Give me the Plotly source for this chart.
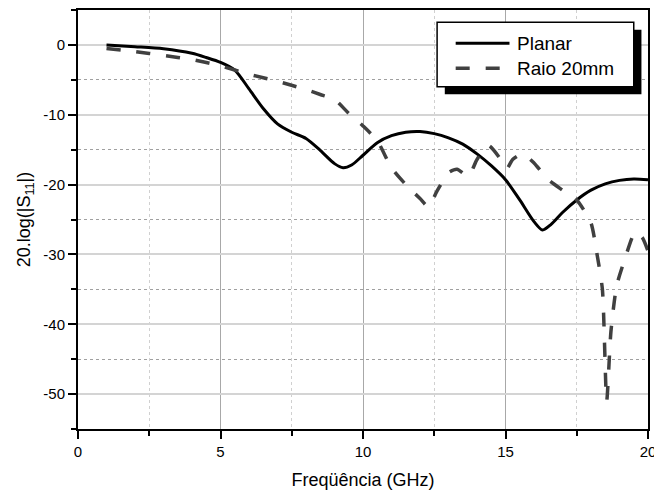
import plotly.graph_objects as go

# Planar antenna
freq_planar = [1, 2, 3, 4, 4.5, 5, 5.5, 6, 6.5, 7, 7.5, 8, 8.5, 9, 9.3, 9.6, 10,
               10.5, 11, 11.5, 12, 12.5, 13, 13.5, 14, 14.5, 15, 15.5, 16, 16.3,
               16.6, 17, 17.5, 18, 18.5, 19, 19.5, 20]
s11_planar = [0, -0.25, -0.55, -1.2, -1.8, -2.5, -3.6, -6.3, -9.1, -11.3, -12.5,
              -13.4, -15.1, -17.0, -17.6, -17.2, -15.8, -14.0, -13.0, -12.5, -12.4,
              -12.7, -13.3, -14.2, -15.6, -17.3, -19.3, -22.2, -25.3, -26.5, -25.7,
              -24.0, -22.2, -20.8, -19.9, -19.4, -19.2, -19.3]

# Curved antenna, radius 20 mm
freq_raio = [1, 2, 3, 4, 5, 6, 7, 8, 8.5, 9, 9.5, 10, 10.5, 11, 11.5, 12, 12.3,
             12.6, 13, 13.3, 13.7, 14, 14.4, 14.85, 15.05, 15.25, 15.6, 16, 16.5,
             17, 17.5, 18, 18.2, 18.4, 18.55, 18.7, 18.9, 19.2, 19.55, 19.8, 20]
s11_raio = [-0.5, -0.95, -1.5, -2.1, -3.0, -4.2, -5.2, -6.4, -7.1, -7.8, -9.8,
            -11.6, -13.7, -17.6, -20.0, -22.0, -23.2, -20.9, -18.3, -17.8, -18.8,
            -16.4, -14.4, -16.5, -17.7, -16.4, -15.6, -16.9, -19.3, -20.8, -22.2,
            -25.5, -29.7, -35.0, -51.0, -41.0, -34.5, -30.5, -26.8, -27.6, -29.5]

x_ticks = [0, 5, 10, 15, 20]
y_ticks = [0, -10, -20, -30, -40, -50]
y_ticktext = ["0", "-10", "-20", "-30", "-40", "-50"]

series_names = ["Planar", "Raio 20mm"]
series_colors = ["black", "#404040"]
series_dash = ["solid", "14px,16px"]

font_family = "Arial, Liberation Sans, sans-serif"

fig = go.Figure()
fig.add_trace(go.Scatter(
    x=freq_planar, y=s11_planar, mode="lines", name=series_names[0],
    line=dict(color=series_colors[0], width=3, shape="spline", smoothing=0.8),
))
fig.add_trace(go.Scatter(
    x=freq_raio, y=s11_raio, mode="lines", name=series_names[1],
    line=dict(color=series_colors[1], width=3.5, dash=series_dash[1],
              shape="spline", smoothing=0.6),
))

# legend box (drawn by hand so the key lines can be long, with a drop shadow)
box = dict(x0=0.630, x1=0.975, y0=0.817, y1=0.971)
shadow_dx, shadow_dy = 0.0135, 0.018
fig.add_shape(type="rect", xref="paper", yref="paper",
              x0=box["x0"] + shadow_dx, x1=box["x1"] + shadow_dx,
              y0=box["y0"] - shadow_dy, y1=box["y1"] - shadow_dy,
              fillcolor="black", line=dict(width=0), layer="above")
fig.add_shape(type="rect", xref="paper", yref="paper", **box,
              fillcolor="white", line=dict(color="black", width=1.5), layer="above")
key_y = [0.9205, 0.861]
for name, color, dash, ky, w in zip(series_names, series_colors, series_dash, key_y, [3, 3.5]):
    fig.add_shape(type="line", xref="paper", yref="paper",
                  x0=0.6626, x1=0.757, y0=ky, y1=ky,
                  line=dict(color=color, width=w, dash=dash), layer="above")
    fig.add_annotation(x=0.766, y=ky, xref="paper", yref="paper", text=name,
                       showarrow=False, xanchor="left", yanchor="middle",
                       font=dict(size=19, color="black"))

fig.update_xaxes(
    range=[0, 20], tickvals=x_ticks, ticks="outside", ticklen=8, tickwidth=2,
    tickcolor="black", showline=True, linecolor="black", linewidth=2, mirror=True,
    showgrid=True, gridcolor="#a8a8a8", gridwidth=1, zeroline=False,
    ticklabeloverflow="allow",
    minor=dict(dtick=2.5, ticks="outside", ticklen=5, tickwidth=2, tickcolor="black",
               showgrid=True, gridcolor="#d0d0d0", griddash="dot", gridwidth=1),
    title=dict(text="Freqüência (GHz)", font=dict(size=18, color="black"), standoff=14),
    tickfont=dict(size=15, color="black"),
)
fig.update_yaxes(
    range=[-55, 5], tickvals=y_ticks, ticktext=y_ticktext, ticks="outside", ticklen=8,
    tickwidth=2, tickcolor="black", showline=True, linecolor="black", linewidth=2,
    mirror=True, showgrid=True, gridcolor="#d4d4d4", gridwidth=2, zeroline=False,
    minor=dict(tick0=-5, dtick=10, ticks="outside", ticklen=5, tickwidth=2, tickcolor="black",
               showgrid=True, gridcolor="#a0a0a0", griddash="dot", gridwidth=1),
    title=dict(text="20.log(|S<sub>11</sub>|)", font=dict(size=18, color="black"), standoff=8),
    tickfont=dict(size=15, color="black"),
)

fig.update_layout(
    width=654, height=495,
    margin=dict(l=78, r=6, t=10, b=66, autoexpand=False),
    plot_bgcolor="white", paper_bgcolor="white",
    font=dict(family=font_family, color="black"),
    showlegend=False,
)

fig.write_html("out.html", config={"displayModeBar": False},
               post_script="document.body.style.margin='0';")
